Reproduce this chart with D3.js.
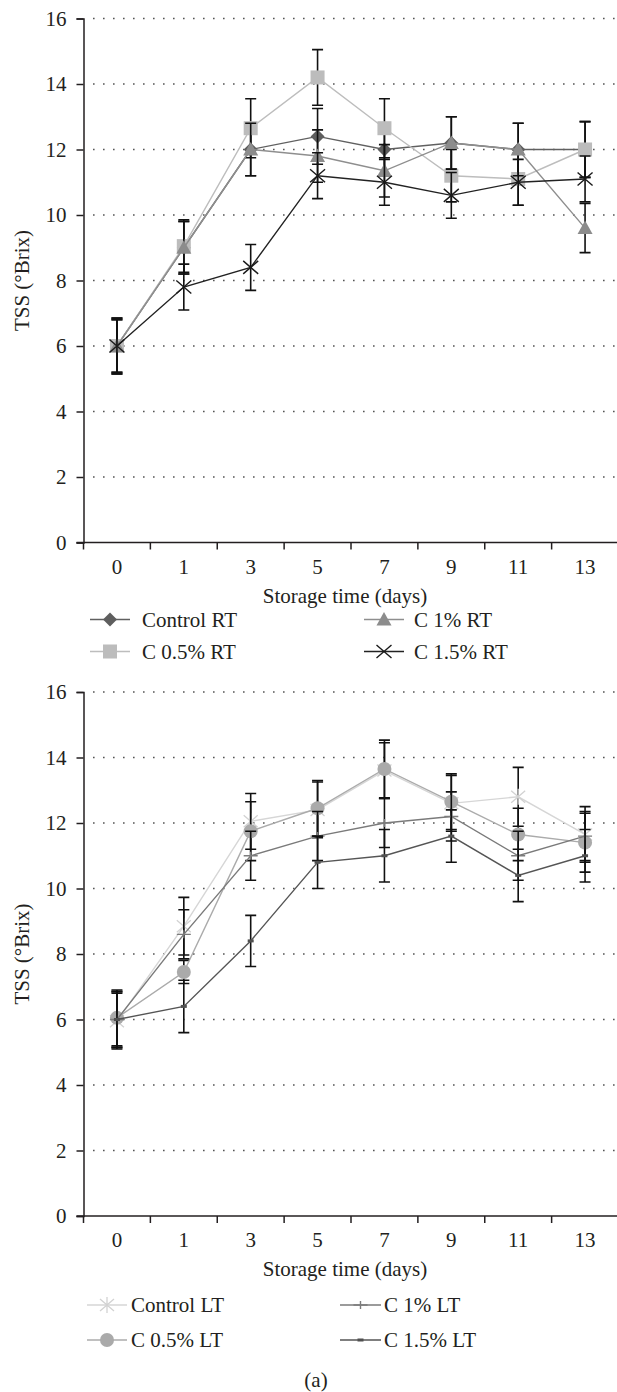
<!DOCTYPE html>
<html>
<head>
<meta charset="utf-8">
<script src="https://cdn.jsdelivr.net/npm/d3@7"></script>
<style>
  body { margin: 0; background: #fff; }
  text { font-family: "Liberation Serif", "DejaVu Serif", serif; fill: #231f20; }
</style>
</head>
<body>
<script>
const days = ["0", "1", "3", "5", "7", "9", "11", "13"];
const yTicks = [0, 2, 4, 6, 8, 10, 12, 14, 16];

// room temperature (RT)
const controlRT = [6.0, 9.0, 12.0, 12.4, 12.0, 12.2, 12.0, 12.0];
const c05RT = [6.0, 9.05, 12.65, 14.2, 12.65, 11.2, 11.1, 12.0];
const c1RT = [6.0, 9.0, 12.0, 11.8, 11.35, 12.2, 12.0, 9.6];
const c15RT = [6.0, 7.8, 8.4, 11.2, 11.0, 10.6, 11.0, 11.1];
const controlRTErr = [0.85, 0.8, 0.8, 0.85, 0.8, 0.8, 0.8, 0.85];
const c05RTErr = [0.85, 0.8, 0.9, 0.85, 0.9, 0.8, 0.8, 0.85];
const c1RTErr = [0.8, 0.8, 0.8, 0.8, 0.8, 0.8, 0.8, 0.75];
const c15RTErr = [0.8, 0.7, 0.7, 0.7, 0.7, 0.7, 0.7, 0.7];

// low temperature (LT)
const controlLT = [5.95, 8.85, 12.05, 12.4, 13.6, 12.6, 12.8, 11.65];
const c05LT = [6.05, 7.45, 11.75, 12.45, 13.65, 12.65, 11.65, 11.4];
const c1LT = [6.0, 8.6, 11.0, 11.6, 12.0, 12.2, 11.0, 11.6];
const c15LT = [6.0, 6.4, 8.4, 10.8, 11.0, 11.6, 10.4, 11.0];
const controlLTErr = [0.85, 0.88, 0.85, 0.85, 0.85, 0.85, 0.9, 0.85];
const c05LTErr = [0.85, 0.35, 0.9, 0.85, 0.88, 0.85, 0.8, 0.9];
const c1LTErr = [0.85, 0.75, 0.75, 0.75, 0.75, 0.75, 0.75, 0.75];
const c15LTErr = [0.85, 0.8, 0.78, 0.8, 0.8, 0.8, 0.8, 0.8];

const W = 617, H = 1392;
const FS = 21;
const svg = d3.select("body").append("svg").attr("width", W).attr("height", H);

// marker shapes
function drawMarker(g, type, color) {
  if (type == "diamond") {
    g.append("path").attr("d", "M0,-7L7,0L0,7L-7,0Z").attr("fill", color);
  } else if (type == "square") {
    g.append("rect").attr("x", -7).attr("y", -7).attr("width", 14).attr("height", 14).attr("fill", color);
  } else if (type == "triangle") {
    g.append("path").attr("d", "M0,-7.5L7.5,6L-7.5,6Z").attr("fill", color);
  } else if (type == "x") {
    g.append("path").attr("d", "M-7.5,-6.5L7.5,6.5M-7.5,6.5L7.5,-6.5")
      .attr("stroke", color).attr("stroke-width", 1.4).attr("fill", "none");
  } else if (type == "asterisk") {
    g.append("path").attr("d", "M-7,-6L7,6M-7,6L7,-6M0,-8L0,8")
      .attr("stroke", color).attr("stroke-width", 1.3).attr("fill", "none");
  } else if (type == "circle") {
    g.append("circle").attr("r", 7).attr("fill", color);
  } else if (type == "plus") {
    g.append("path").attr("d", "M-7,0L7,0M0,-4L0,4")
      .attr("stroke", color).attr("stroke-width", 1.4).attr("fill", "none");
  } else if (type == "dash") {
    g.append("rect").attr("x", -3).attr("y", -1.5).attr("width", 6).attr("height", 3).attr("fill", color);
  }
}

// legend slots: col (0/1), row (0/1)
function drawChart(top, series, legend) {
  const y0 = top + 524; // pixel of value 0
  const x = d3.scaleBand().domain(days).range([83.5, 618.5]);
  const y = d3.scaleLinear().domain([0, 16]).range([y0, top]);
  const g = svg.append("g");
  const cx = d => x(d) + x.bandwidth() / 2;

  // dotted gridlines
  g.selectAll(".grid")
    .data(yTicks.filter(d => d > 0))
    .enter()
    .append("line")
    .attr("x1", 93).attr("x2", W)
    .attr("y1", d => y(d)).attr("y2", d => y(d))
    .attr("stroke", "#555")
    .attr("stroke-width", 1.6)
    .attr("stroke-dasharray", "1.6,8.4");

  // y axis
  const yAxis = g.append("g")
    .attr("transform", "translate(83.5,0)")
    .call(d3.axisLeft(y).tickValues(yTicks).tickSize(7).tickPadding(10).tickFormat(d3.format("d")));
  yAxis.selectAll("path, line").attr("stroke", "#231f20").attr("stroke-width", 1.5);
  yAxis.selectAll("text").attr("font-size", FS).attr("font-family", "Liberation Serif, serif").attr("fill", "#231f20");

  // x axis: baseline, ticks on category boundaries, centred labels
  g.append("line").attr("x1", 76.5).attr("x2", W).attr("y1", y0).attr("y2", y0)
    .attr("stroke", "#231f20").attr("stroke-width", 1.5);
  g.selectAll(".xtick")
    .data(days)
    .enter()
    .append("line")
    .attr("x1", d => x(d)).attr("x2", d => x(d))
    .attr("y1", y0).attr("y2", y0 + 7)
    .attr("stroke", "#231f20").attr("stroke-width", 1.5);
  g.selectAll(".xlabel")
    .data(days)
    .enter()
    .append("text")
    .attr("x", cx)
    .attr("y", y0 + 31)
    .attr("text-anchor", "middle")
    .attr("font-size", FS)
    .text(d => d);

  g.append("text")
    .attr("x", 345).attr("y", y0 + 60)
    .attr("text-anchor", "middle")
    .attr("font-size", FS)
    .text("Storage time (days)");

  g.append("text")
    .attr("transform", `translate(29,${(top + y0) / 2}) rotate(-90)`)
    .attr("text-anchor", "middle")
    .attr("font-size", FS)
    .text("TSS (°Brix)");

  const line = d3.line()
    .x((d, i) => cx(days[i]))
    .y(d => y(d));

  series.forEach(s => {
    const sg = g.append("g");
    // error bars
    s.values.forEach((v, i) => {
      const px = cx(days[i]);
      const lo = y(v - s.err[i]), hi = y(v + s.err[i]);
      sg.append("path")
        .attr("d", `M${px},${lo}L${px},${hi}M${px - 5.5},${lo}L${px + 5.5},${lo}M${px - 5.5},${hi}L${px + 5.5},${hi}`)
        .attr("stroke", "#111").attr("stroke-width", 1.6).attr("fill", "none");
    });
    sg.append("path")
      .datum(s.values)
      .attr("d", line)
      .attr("fill", "none")
      .attr("stroke", s.line)
      .attr("stroke-width", 1.4);
    s.values.forEach((v, i) => {
      const m = sg.append("g").attr("transform", `translate(${cx(days[i])},${y(v)})`);
      drawMarker(m, s.marker, s.color);
    });

    // legend entry
    const col = legend.cols[s.col];
    const ly = y0 + legend.offset + s.row * legend.rowGap;
    const lg = g.append("g");
    lg.append("line").attr("x1", col.x1).attr("x2", col.x2).attr("y1", ly).attr("y2", ly)
      .attr("stroke", s.line).attr("stroke-width", 1.5);
    drawMarker(lg.append("g").attr("transform", `translate(${(col.x1 + col.x2) / 2},${ly})`), s.marker, s.color);
    lg.append("text").attr("x", col.tx).attr("y", ly + 7).attr("font-size", FS).text(s.name);
  });
}

const rtSeries = [
  { name: "Control RT", values: controlRT, err: controlRTErr, marker: "diamond", color: "#5e5e5e", line: "#606060", col: 0, row: 0 },
  { name: "C 0.5% RT", values: c05RT, err: c05RTErr, marker: "square", color: "#bcbcbc", line: "#bdbdbd", col: 0, row: 1 },
  { name: "C 1% RT", values: c1RT, err: c1RTErr, marker: "triangle", color: "#8c8c8c", line: "#8e8e8e", col: 1, row: 0 },
  { name: "C 1.5% RT", values: c15RT, err: c15RTErr, marker: "x", color: "#1a1a1a", line: "#222", col: 1, row: 1 }
];
const ltSeries = [
  { name: "Control LT", values: controlLT, err: controlLTErr, marker: "asterisk", color: "#d2d2d2", line: "#d6d6d6", col: 0, row: 0 },
  { name: "C 0.5% LT", values: c05LT, err: c05LTErr, marker: "circle", color: "#aaaaaa", line: "#ababab", col: 0, row: 1 },
  { name: "C 1% LT", values: c1LT, err: c1LTErr, marker: "plus", color: "#7c7c7c", line: "#7a7a7a", col: 1, row: 0 },
  { name: "C 1.5% LT", values: c15LT, err: c15LTErr, marker: "dash", color: "#505050", line: "#555", col: 1, row: 1 }
];

drawChart(18.5, rtSeries, {
  offset: 77, rowGap: 32,
  cols: [{ x1: 90, x2: 130, tx: 142 }, { x1: 364, x2: 404, tx: 414 }]
});
drawChart(692, ltSeries, {
  offset: 89, rowGap: 35,
  cols: [{ x1: 87, x2: 127, tx: 131 }, { x1: 340, x2: 381, tx: 384 }]
});

svg.append("text")
  .attr("x", 316).attr("y", 1387)
  .attr("text-anchor", "middle")
  .attr("font-size", FS)
  .text("(a)");
</script>
</body>
</html>
